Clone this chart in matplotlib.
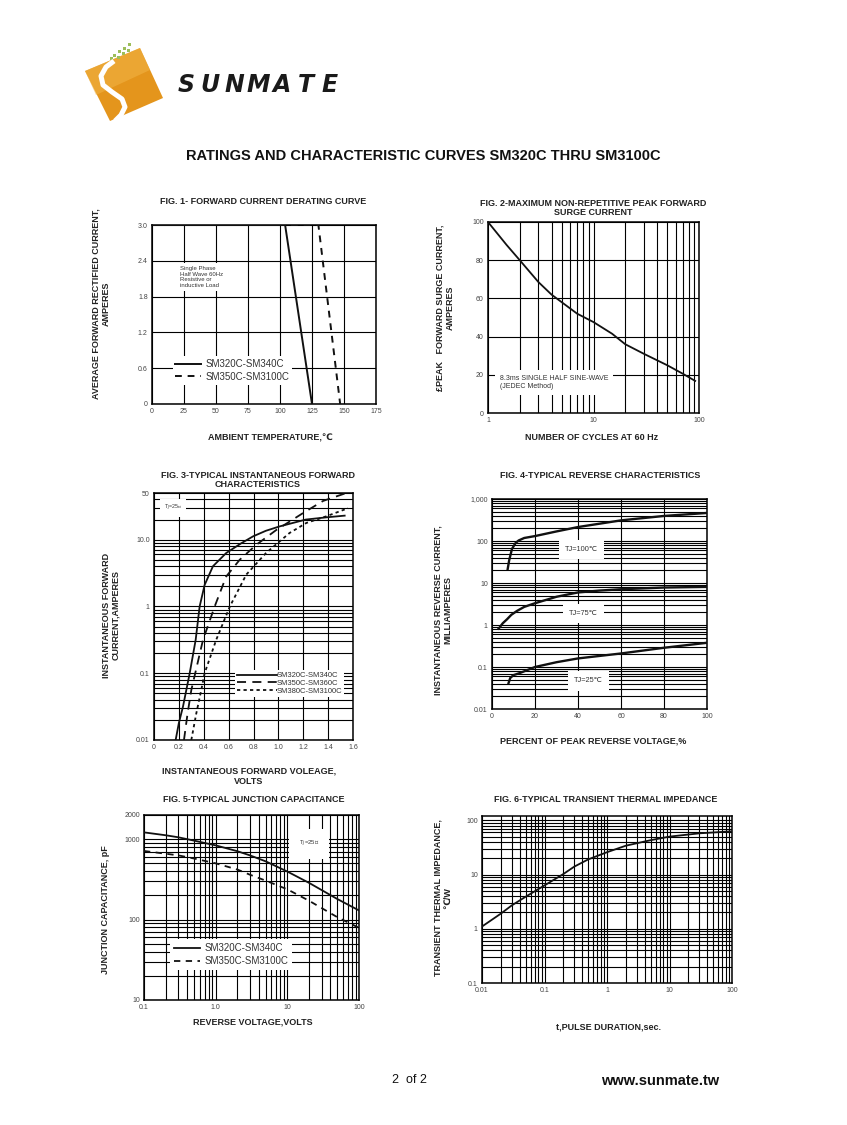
import numpy as np
import matplotlib
matplotlib.use("Agg")
import matplotlib.pyplot as plt
from matplotlib.ticker import FixedLocator, LogLocator, NullFormatter, NullLocator
from matplotlib.patches import Polygon

plt.rcParams['font.family'] = ['Liberation Sans', 'DejaVu Sans']

W, H = 847, 1125

# ---------------- data ----------------
# Fig 1 derating
temp_a = [0, 104, 125]
cur_a = [3.0, 3.0, 0.0]
temp_b = [0, 130, 147]
cur_b = [3.0, 3.0, 0.0]

# Fig 2 surge
cycles = [1, 1.5, 2, 3, 4, 5, 7, 10, 15, 20, 30, 50, 70, 92]
surge = [100, 88, 80, 68.6, 62, 58, 52, 47.6, 41.5, 36, 31, 25, 20.6, 16.8]

# Fig 3 forward characteristics
vf_a = [0.174, 0.20, 0.233, 0.287, 0.335, 0.367, 0.407, 0.474, 0.58, 0.70, 0.796, 0.90, 1.01, 1.22, 1.386, 1.533]
if_a = [0.01, 0.018, 0.0316, 0.1, 0.316, 1.0, 2.1, 4.0, 6.3, 8.8, 11.2, 13.6, 15.8, 20.0, 21.6, 22.9]
vf_b = [0.241, 0.27, 0.30, 0.394, 0.488, 0.58, 0.689, 0.823, 0.984, 1.198, 1.359, 1.56]
if_b = [0.01, 0.025, 0.056, 0.316, 1.0, 2.8, 5.0, 8.4, 14.0, 25.0, 38.0, 51.0]
vf_c = [0.30, 0.34, 0.38, 0.407, 0.50, 0.61, 0.742, 0.90, 1.09, 1.225, 1.386, 1.56]
if_c = [0.01, 0.025, 0.056, 0.1, 0.316, 1.0, 3.0, 6.3, 12.6, 17.8, 22.4, 29.6]

# Fig 4 reverse characteristics
pv_100 = [7.3, 8, 9.3, 11, 12.4, 15, 20, 30, 40, 60, 80, 100]
ir_100 = [21.6, 35, 65, 90, 103, 118, 131, 169, 215, 310, 395, 465]
pv_75 = [3.1, 5, 7, 9, 11.6, 15, 20, 30, 40, 50, 60, 80, 100]
ir_75 = [0.82, 1.1, 1.37, 1.75, 2.16, 2.7, 3.3, 4.7, 5.96, 6.6, 7.1, 7.8, 8.1]
pv_25 = [7.7, 8.5, 10, 13, 20, 30, 40, 60, 80, 100]
ir_25 = [0.0415, 0.055, 0.064, 0.072, 0.1, 0.13, 0.16, 0.21, 0.287, 0.377]

# Fig 5 junction capacitance
vr = [0.1, 0.2, 0.3, 0.5, 1, 2, 3, 5, 10, 20, 50, 100]
cj_a = [1216, 1120, 1057, 960, 838, 710, 630, 530, 396, 287, 180, 130]
cj_b = [714, 660, 630, 575, 501, 420, 362, 305, 238, 172, 107, 79]

# Fig 6 transient thermal impedance
tp = [0.01, 0.02, 0.03, 0.05, 0.1, 0.2, 0.3, 0.5, 1, 2, 5, 10, 30, 100]
zth = [1.1, 1.9, 2.7, 3.9, 6.3, 10.2, 14.0, 19.0, 25.8, 34, 43, 50, 57.5, 62.6]

# ---------------- figure ----------------
fig = plt.figure(figsize=(W / 100, H / 100), dpi=100)
fig.patch.set_facecolor('white')


def px_axes(x0, y0, x1, y1):
    return fig.add_axes([x0 / W, 1 - y1 / H, (x1 - x0) / W, (y1 - y0) / H])


def T(x, y, s, **kw):
    kw.setdefault('ha', 'center')
    kw.setdefault('va', 'center')
    return fig.text(x / W, 1 - y / H, s, **kw)


TICKC = '#444444'


def style(ax):
    for sp in ax.spines.values():
        sp.set_linewidth(1.1)
        sp.set_color('black')
    ax.tick_params(which='both', length=0, labelsize=5, labelcolor=TICKC, pad=3)
    ax.grid(which='both', color='black', linewidth=0.8)
    ax.set_axisbelow(True)


def wbox(ax, x, y, s, fs=5, ha='left', pad=0.25, color='#333333', **kw):
    return ax.text(x, y, s, fontsize=fs, ha=ha, va='center', color=color, zorder=3,
                   bbox=dict(facecolor='white', edgecolor='none', pad=pad * 10), **kw)


def style_legend(leg):
    for t in leg.get_texts():
        t.set_color('#333333')
    leg.set_zorder(3)


title_kw = dict(fontsize=6.5, fontweight='bold', color='#222222')
lab_kw = dict(fontsize=6.5, fontweight='bold', color='#222222', linespacing=1.1)

# ---------------- header ----------------
logo = fig.add_axes([0, 0, 1, 1], zorder=-1)
logo.set_xlim(0, W)
logo.set_ylim(H, 0)
logo.axis('off')
logo.add_patch(Polygon([(85, 71), (140, 48), (163, 98), (110, 121)], closed=True,
                       facecolor='#E4951C', edgecolor='none', joinstyle='round'))
logo.add_patch(Polygon([(85, 71), (140, 48), (150, 70), (96, 95)], closed=True,
                       facecolor='#F2B547', edgecolor='none', alpha=0.55))
s_x = [114, 106, 101, 103, 112, 122, 125, 121, 115]
s_y = [61, 67, 76, 85, 92, 99, 107, 115, 121]
logo.plot(s_x, s_y, color='white', linewidth=3.6, solid_capstyle='butt', solid_joinstyle='round')
for (gx, gy) in [(129, 44), (124, 48), (128, 50), (119, 51), (123, 53), (114, 55), (111, 58), (118, 57)]:
    logo.add_patch(Polygon([(gx - 1.5, gy - 1.5), (gx + 1.5, gy - 1.5), (gx + 1.5, gy + 1.5), (gx - 1.5, gy + 1.5)],
                           facecolor='#9DBE5A', edgecolor='none'))
for i, ch in enumerate("SUNMATE"):
    T(186 + i * 24, 85, ch, fontsize=17, fontweight='heavy', style='italic', color='#1a1a1a',
      family='DejaVu Sans')

T(423, 156, "RATINGS AND CHARACTERISTIC CURVES SM320C THRU SM3100C", fontsize=10.5,
  fontweight='bold', color='#111111')

T(409, 1080, "2  of 2", fontsize=9, color='#111111')
T(660, 1081, "www.sunmate.tw", fontsize=10.5, fontweight='bold', color='#111111')

# ---------------- Fig 1 ----------------
ax1 = px_axes(152, 225, 376, 404)
style(ax1)
ax1.plot(temp_a, cur_a, color='#111111', lw=1.4, zorder=4, label='SM320C-SM340C')
ax1.plot(temp_b, cur_b, color='#111111', lw=1.4, ls=(0, (3.5, 3)), zorder=4, label='SM350C-SM3100C')
ax1.set_xlim(0, 175)
ax1.set_ylim(0, 3.0)
ax1.xaxis.set_major_locator(FixedLocator([0, 25, 50, 75, 100, 125, 150, 175]))
ax1.yaxis.set_major_locator(FixedLocator([0, 0.6, 1.2, 1.8, 2.4, 3.0]))
ax1.set_yticklabels(['0', '0.6', '1.2', '1.8', '2.4', '3.0'])
wbox(ax1, 22, 2.13, "Single Phase\nHalf Wave 60Hz\nResistive or\ninductive Load", fs=4.3, pad=0.2)
leg1 = ax1.legend(loc='lower left', bbox_to_anchor=(0.07, 0.08), fontsize=7, frameon=True,
                  facecolor='white', edgecolor='none', framealpha=1, handlelength=2.6,
                  borderpad=0.3, labelspacing=0.3, handletextpad=0.5, fancybox=False)
style_legend(leg1)
T(263, 201, "FIG. 1- FORWARD CURRENT DERATING CURVE", **title_kw)
T(270, 438, "AMBIENT TEMPERATURE,\u2103", **title_kw)
T(101, 304, "AVERAGE FORWARD RECTIFIED CURRENT,\nAMPERES", rotation=90, **lab_kw)

# ---------------- Fig 2 ----------------
ax2 = px_axes(488, 222, 699, 413)
style(ax2)
ax2.set_xscale('log')
ax2.plot(cycles, surge, color='#111111', lw=1.3, zorder=4)
ax2.set_xlim(1, 100)
ax2.set_ylim(0, 100)
ax2.xaxis.set_major_locator(FixedLocator([1, 10, 100]))
ax2.set_xticklabels(['1', '10', '100'])
ax2.xaxis.set_minor_locator(LogLocator(base=10, subs=np.arange(2, 10)))
ax2.xaxis.set_minor_formatter(NullFormatter())
ax2.yaxis.set_major_locator(FixedLocator([0, 20, 40, 60, 80, 100]))
ax2.yaxis.set_minor_locator(NullLocator())
wbox(ax2, 1.3, 15.8, "8.3ms SINGLE HALF SINE-WAVE\n(JEDEC Method)", fs=5, pad=0.35)
T(593, 208, "FIG. 2-MAXIMUM NON-REPETITIVE PEAK FORWARD\nSURGE CURRENT", linespacing=1.0, **title_kw)
T(592, 438, "NUMBER OF CYCLES AT 60 Hz", **title_kw)
T(445, 308, "\u00a3PEAK   FORWARD SURGE CURRENT,\nAMPERES", rotation=90, **lab_kw)

# ---------------- Fig 3 ----------------
ax3 = px_axes(154, 493, 353, 740)
style(ax3)
ax3.set_yscale('log')
ax3.plot(vf_a, if_a, color='#111111', lw=1.3, zorder=4, label='SM320C-SM340C')
ax3.plot(vf_b, if_b, color='#111111', lw=1.3, ls=(0, (5, 3.5)), zorder=4, label='SM350C-SM360C')
ax3.plot(vf_c, if_c, color='#111111', lw=1.3, ls=(0, (1.8, 1.8)), zorder=4, label='SM380C-SM3100C')
ax3.set_xlim(0, 1.6)
ax3.set_ylim(0.01, 50)
ax3.xaxis.set_major_locator(FixedLocator([0, 0.2, 0.4, 0.6, 0.8, 1.0, 1.2, 1.4, 1.6]))
ax3.set_xticklabels(['0', '0.2', '0.4', '0.6', '0.8', '1.0', '1.2', '1.4', '1.6'])
ax3.yaxis.set_major_locator(FixedLocator([0.01, 0.1, 1, 10, 50]))
ax3.set_yticklabels(['0.01', '0.1', '1', '10.0', '50'])
ax3.yaxis.set_minor_locator(LogLocator(base=10, subs=np.arange(2, 10)))
ax3.yaxis.set_minor_formatter(NullFormatter())
wbox(ax3, 0.08, 30, "T$_J$=25\u2103", fs=3.8, pad=0.3)
leg3 = ax3.legend(loc='lower right', bbox_to_anchor=(0.975, 0.16), fontsize=5.5, frameon=True,
                  facecolor='white', edgecolor='none', framealpha=1, handlelength=5.2,
                  borderpad=0.25, labelspacing=0.05, handletextpad=0.0, fancybox=False)
style_legend(leg3)
T(258, 480, "FIG. 3-TYPICAL INSTANTANEOUS FORWARD\nCHARACTERISTICS", linespacing=1.0, **title_kw)
T(249, 776, "INSTANTANEOUS FORWARD VOLEAGE,\nVOLTS", **title_kw)
T(111, 615, "INSTANTANEOUS FORWARD\nCURRENT,AMPERES", rotation=90, **lab_kw)

# ---------------- Fig 4 ----------------
ax4 = px_axes(492, 499, 707, 709)
style(ax4)
ax4.set_yscale('log')
ax4.plot(pv_100, ir_100, color='#111111', lw=1.7, zorder=4)
ax4.plot(pv_75, ir_75, color='#111111', lw=1.7, zorder=4)
ax4.plot(pv_25, ir_25, color='#111111', lw=1.7, zorder=4)
ax4.set_xlim(0, 100)
ax4.set_ylim(0.01, 1000)
ax4.xaxis.set_major_locator(FixedLocator([0, 20, 40, 60, 80, 100]))
ax4.yaxis.set_major_locator(FixedLocator([0.01, 0.1, 1, 10, 100, 1000]))
ax4.set_yticklabels(['0.01', '0.1', '1', '10', '100', '1,000'])
ax4.yaxis.set_minor_locator(LogLocator(base=10, subs=np.arange(2, 10)))
ax4.yaxis.set_minor_formatter(NullFormatter())
wbox(ax4, 41.7, 62, "TJ=100\u2103", fs=5.3, ha='center', pad=0.45)
wbox(ax4, 42.5, 1.87, "TJ=75\u2103", fs=5.3, ha='center', pad=0.45)
wbox(ax4, 44.8, 0.047, "TJ=25\u2103", fs=5.3, ha='center', pad=0.45)
T(600, 475, "FIG. 4-TYPICAL REVERSE CHARACTERISTICS", **title_kw)
T(593, 741, "PERCENT OF PEAK REVERSE VOLTAGE,%", **title_kw)
T(443, 610, "INSTANTANEOUS REVERSE CURRENT,\nMILLIAMPERES", rotation=90, **lab_kw)

# ---------------- Fig 5 ----------------
ax5 = px_axes(144, 815, 359, 1000)
style(ax5)
ax5.set_xscale('log')
ax5.set_yscale('log')
ax5.plot(vr, cj_a, color='#111111', lw=1.3, zorder=4, label='SM320C-SM340C')
ax5.plot(vr, cj_b, color='#111111', lw=1.3, ls=(0, (3.5, 3)), zorder=4, label='SM350C-SM3100C')
ax5.set_xlim(0.1, 100)
ax5.set_ylim(10, 2000)
ax5.xaxis.set_major_locator(FixedLocator([0.1, 1, 10, 100]))
ax5.set_xticklabels(['0.1', '1.0', '10', '100'])
ax5.xaxis.set_minor_locator(LogLocator(base=10, subs=np.arange(2, 10)))
ax5.xaxis.set_minor_formatter(NullFormatter())
ax5.yaxis.set_major_locator(FixedLocator([10, 100, 1000, 2000]))
ax5.set_yticklabels(['10', '100', '1000', '2000'])
ax5.yaxis.set_minor_locator(LogLocator(base=10, subs=np.arange(2, 10)))
ax5.yaxis.set_minor_formatter(NullFormatter())
wbox(ax5, 20, 880, "T$_J$=25\u2103", fs=4.3, ha='center', pad=0.7)
leg5 = ax5.legend(loc='lower left', bbox_to_anchor=(0.1, 0.135), fontsize=7, frameon=True,
                  facecolor='white', edgecolor='none', framealpha=1, handlelength=2.6,
                  borderpad=0.4, labelspacing=0.3, handletextpad=0.5, fancybox=False)
style_legend(leg5)
T(254, 800, "FIG. 5-TYPICAL JUNCTION CAPACITANCE", **title_kw)
T(253, 1022, "REVERSE VOLTAGE,VOLTS", **title_kw)
T(105, 910, "JUNCTION CAPACITANCE, pF", rotation=90, **lab_kw)

# ---------------- Fig 6 ----------------
ax6 = px_axes(482, 816, 732, 983)
style(ax6)
ax6.set_xscale('log')
ax6.set_yscale('log')
ax6.plot(tp, zth, color='#111111', lw=1.3, zorder=4)
ax6.set_xlim(0.01, 100)
ax6.set_ylim(0.1, 120)
ax6.xaxis.set_major_locator(FixedLocator([0.01, 0.1, 1, 10, 100]))
ax6.set_xticklabels(['0.01', '0.1', '1', '10', '100'])
ax6.xaxis.set_minor_locator(LogLocator(base=10, subs=np.arange(2, 10)))
ax6.xaxis.set_minor_formatter(NullFormatter())
ax6.yaxis.set_major_locator(FixedLocator([0.1, 1, 10, 100]))
ax6.set_yticklabels(['0.1', '1', '10', '100'])
ax6.yaxis.set_minor_locator(LogLocator(base=10, subs=np.arange(2, 10)))
ax6.yaxis.set_minor_formatter(NullFormatter())
T(606, 800, "FIG. 6-TYPICAL TRANSIENT THERMAL IMPEDANCE", **title_kw)
T(608, 1027, "t,PULSE DURATION,sec.", **title_kw)
T(443, 898, "TRANSIENT THERMAL IMPEDANCE,\n\u2103/W", rotation=90, **lab_kw)

fig.savefig("out.png", dpi=100, facecolor='white')
